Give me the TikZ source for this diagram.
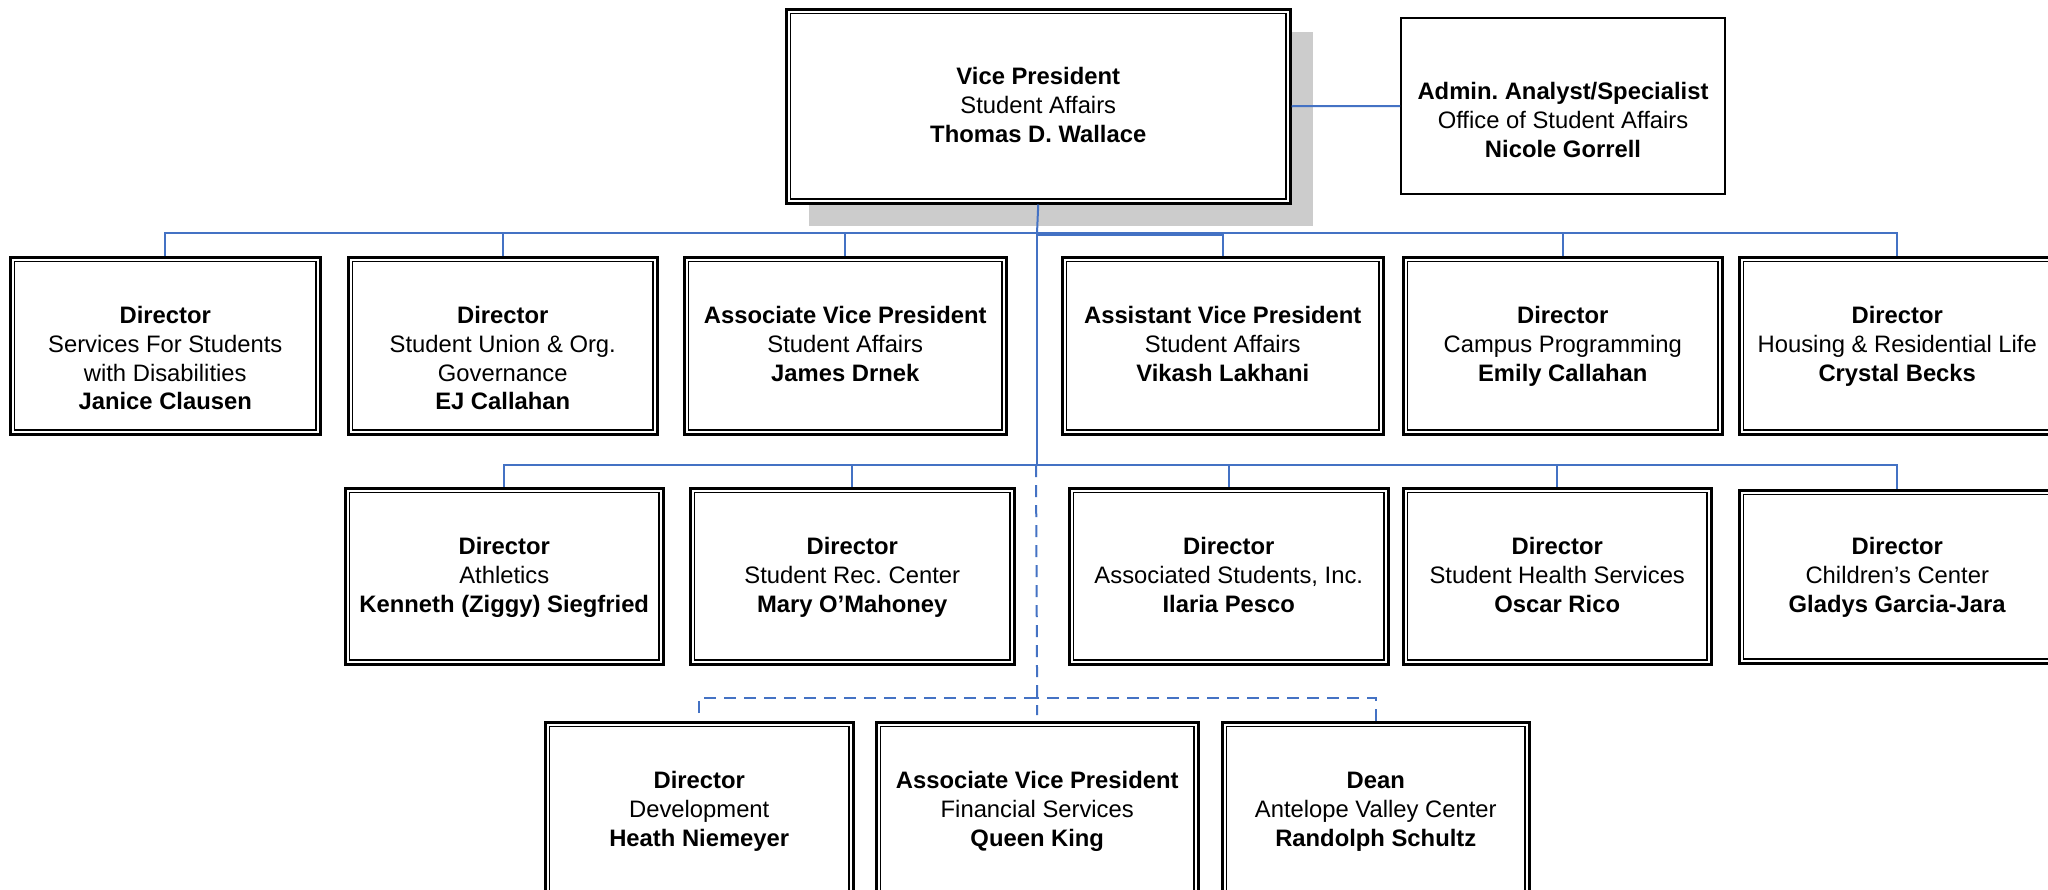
\documentclass[tikz,border=0pt]{standalone}
\usepackage{fontspec}
\setmainfont{Liberation Sans}
\frenchspacing
\definecolor{connblue}{HTML}{4472C4}
\definecolor{shadowgray}{HTML}{CCCCCC}
\newcommand{\myst}{\rule{0pt}{21.4pt}}
\begin{document}
\begin{tikzpicture}[x=1pt,y=-1pt,
  box/.style={draw, line width=2.5pt, fill=white, inner sep=0pt, anchor=north west, minimum height=177},
  sbox/.style={draw, line width=2pt, fill=white, inner sep=0pt, anchor=north west},
  innerline/.style={line width=1.6pt},
  txt/.style={anchor=north, align=center, inner sep=0pt, font=\fontsize{23.8}{28.7}\selectfont\frenchspacing},
  conn/.style={draw=connblue, line width=2pt},
  dconn/.style={conn, dash pattern=on 12pt off 8pt}]
\useasboundingbox (0,0) rectangle (2048,889);
\clip (0,0) rectangle (2048,889);
\fill[white] (0,0) rectangle (2048,889);

% shadow of VP box
\fill[shadowgray] (809,32) rectangle (1313,226);

% boxes
\node[box, minimum width=504, minimum height=194] (vp) at (785,8) {};
\node[sbox, minimum width=324, minimum height=176] (admin) at (1400,17) {};

\node[box, minimum width=310] (r1a) at (9,256) {};
\node[box, minimum width=309] (r1b) at (347,256) {};
\node[box, minimum width=322] (r1c) at (683,256) {};
\node[box, minimum width=321] (r1d) at (1061,256) {};
\node[box, minimum width=319] (r1e) at (1402,256) {};
\node[box, minimum width=316] (r1f) at (1738,256) {};

\node[box, minimum width=318, minimum height=176] (r2a) at (344,487) {};
\node[box, minimum width=324, minimum height=176] (r2b) at (689,487) {};
\node[box, minimum width=319, minimum height=176] (r2c) at (1068,487) {};
\node[box, minimum width=308, minimum height=176] (r2d) at (1402,487) {};
\node[box, minimum width=316, minimum height=173] (r2e) at (1738,489) {};

\node[box, minimum width=308] (r3a) at (544,721) {};
\node[box, minimum width=322] (r3b) at (875,721) {};
\node[box, minimum width=307] (r3c) at (1221,721) {};

\foreach \n in {vp,r1a,r1b,r1c,r1d,r1e,r1f,r2a,r2b,r2c,r2d,r2e,r3a,r3b,r3c}
  \draw[innerline] ([shift={(5.5,5.5)}]\n.north west) rectangle ([shift={(-5.5,-5.5)}]\n.south east);

% texts
\node[txt] (tvp) at ([yshift=-55pt]vp.north) {\myst\textbf{Vice President}\\Student Affairs\\\textbf{Thomas D. Wallace}};
\node[txt] (tadmin) at ([yshift=-61pt]admin.north) {\myst\textbf{Admin. Analyst/Specialist}\\Office of Student Affairs\\\textbf{Nicole Gorrell}};

\node[txt] (t1a) at ([yshift=-46pt]r1a.north) {\myst\textbf{Director}\\Services For Students\\with Disabilities\\\textbf{Janice Clausen}};
\node[txt] (t1b) at ([yshift=-46pt]r1b.north) {\myst\textbf{Director}\\Student Union \& Org.\\Governance\\\textbf{EJ Callahan}};
\node[txt] (t1c) at ([yshift=-46pt]r1c.north) {\myst\textbf{Associate Vice President}\\Student Affairs\\\textbf{James Drnek}};
\node[txt] (t1d) at ([yshift=-46pt]r1d.north) {\myst\textbf{Assistant Vice President}\\Student Affairs\\\textbf{Vikash Lakhani}};
\node[txt] (t1e) at ([yshift=-46pt]r1e.north) {\myst\textbf{Director}\\Campus Programming\\\textbf{Emily Callahan}};
\node[txt] (t1f) at ([yshift=-46pt]r1f.north) {\myst\textbf{Director}\\Housing \& Residential Life\\\textbf{Crystal Becks}};

\node[txt] (t2a) at ([yshift=-46pt]r2a.north) {\myst\textbf{Director}\\Athletics\\\textbf{Kenneth (Ziggy) Siegfried}};
\node[txt] (t2b) at ([yshift=-46pt]r2b.north) {\myst\textbf{Director}\\Student Rec. Center\\\textbf{Mary O’Mahoney}};
\node[txt] (t2c) at ([yshift=-46pt]r2c.north) {\myst\textbf{Director}\\Associated Students, Inc.\\\textbf{Ilaria Pesco}};
\node[txt] (t2d) at ([yshift=-46pt]r2d.north) {\myst\textbf{Director}\\Student Health Services\\\textbf{Oscar Rico}};
\node[txt] (t2e) at ([yshift=-44pt]r2e.north) {\myst\textbf{Director}\\Children’s Center\\\textbf{Gladys Garcia-Jara}};

\node[txt] (t3a) at ([yshift=-46pt]r3a.north) {\myst\textbf{Director}\\Development\\\textbf{Heath Niemeyer}};
\node[txt] (t3b) at ([yshift=-46pt]r3b.north) {\myst\textbf{Associate Vice President}\\Financial Services\\\textbf{Queen King}};
\node[txt] (t3c) at ([yshift=-46pt]r3c.north) {\myst\textbf{Dean}\\Antelope Valley Center\\\textbf{Randolph Schultz}};

% connectors
\coordinate (bus1) at (1037,233);
\coordinate (bus1b) at (1037,235);
\coordinate (bus2) at (1037,465);
\coordinate (bus3) at (1036,698);
\coordinate (bus2d) at (1036,465);

\draw[conn] (vp.east) -- (admin.west);
\draw[conn] (vp.south) -- (bus1);
\draw[conn] (r1a.north) |- (bus1);
\draw[conn] (r1b.north) |- (bus1);
\draw[conn] (r1c.north) |- (bus1);
\draw[conn] (r1d.north) |- (bus1b);
\draw[conn] (r1e.north) |- (bus1);
\draw[conn] (r1f.north) |- (bus1);
\draw[conn] (bus1) -- (bus2);

\draw[conn] (r2a.north) |- (bus2);
\draw[conn] (r2b.north) |- (bus2);
\draw[conn] (r2c.north) |- (bus2);
\draw[conn] (r2d.north) |- (bus2);
\draw[conn] (r2e.north) |- (bus2);

\draw[dconn, shorten >=6pt] (bus2d) -- (r3b.north);
\draw[dconn, shorten <=8pt] (r3a.north) |- (bus3);
\draw[dconn] (r3c.north) |- (bus3);
\end{tikzpicture}
\end{document}
